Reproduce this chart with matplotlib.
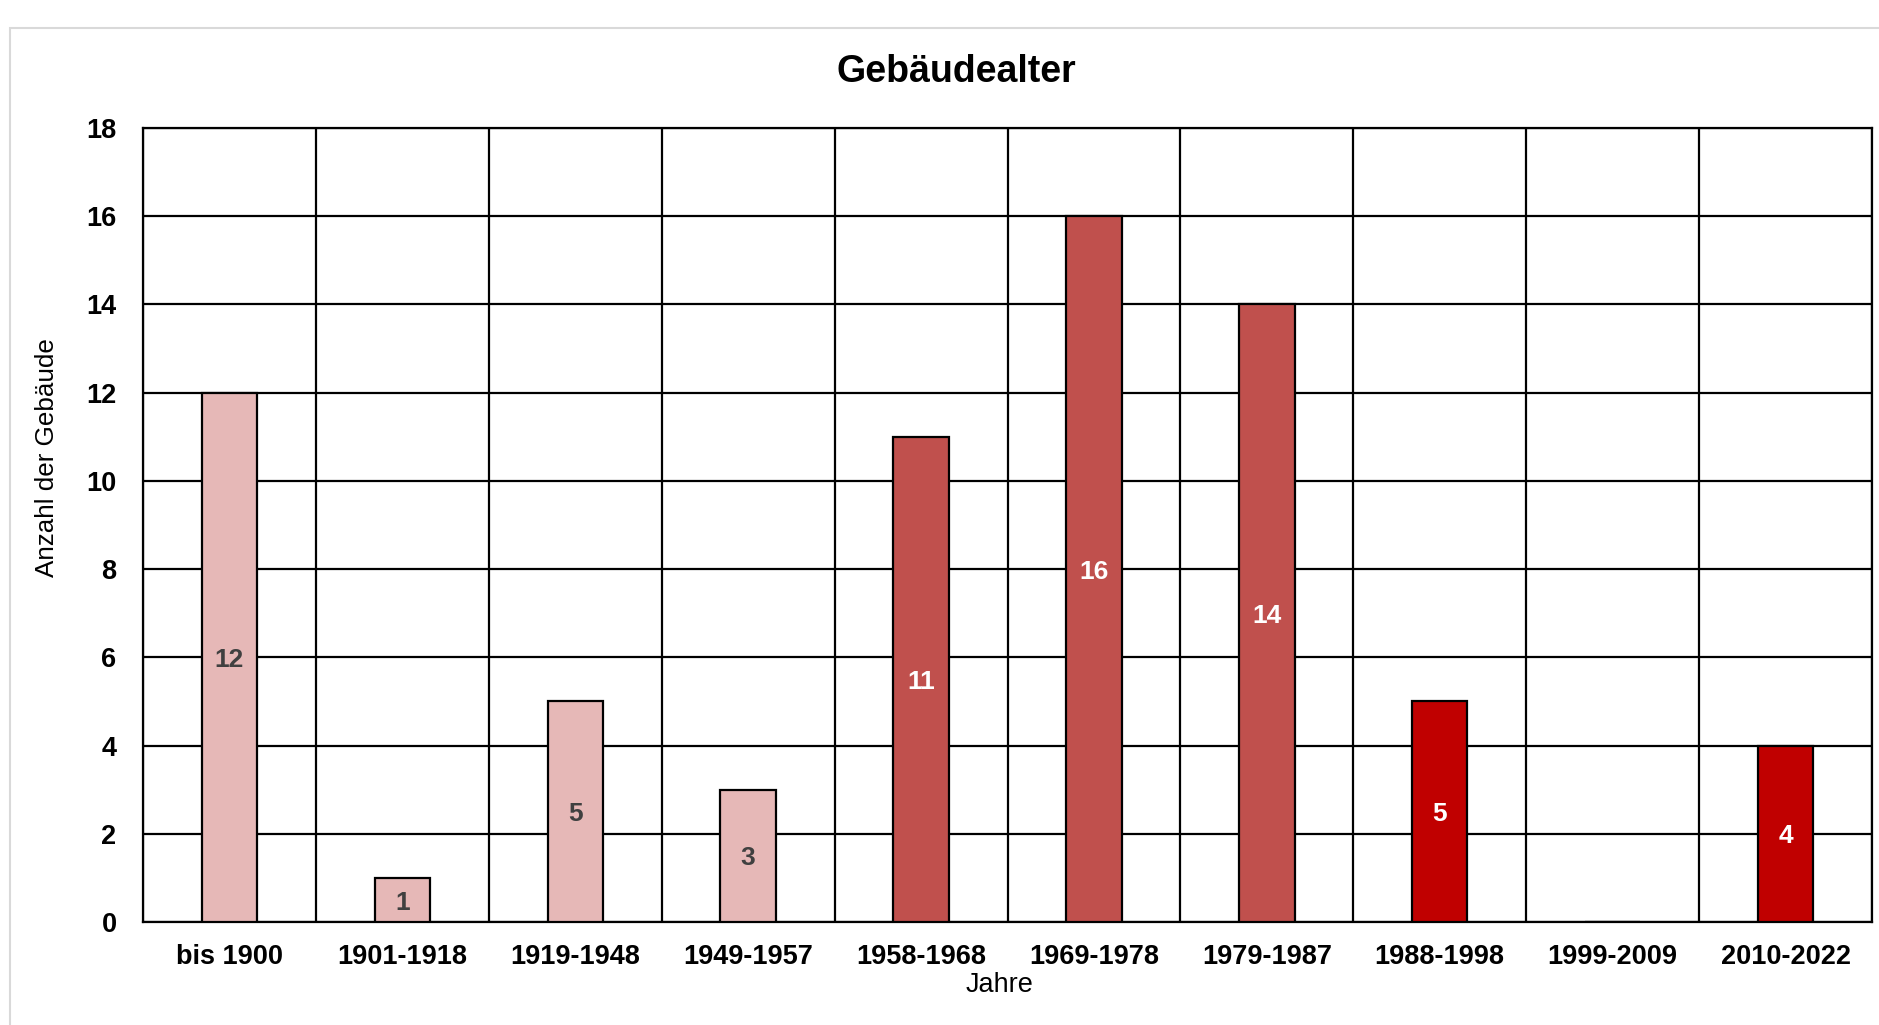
import matplotlib
matplotlib.use("Agg")
import matplotlib.pyplot as plt
import numpy as np
from matplotlib.patches import Rectangle

categories = ["bis 1900", "1901-1918", "1919-1948", "1949-1957", "1958-1968",
              "1969-1978", "1979-1987", "1988-1998", "1999-2009", "2010-2022"]
values = [12, 1, 5, 3, 11, 16, 14, 5, 0, 4]
bar_colors = ["#E6B8B7", "#E6B8B7", "#E6B8B7", "#E6B8B7", "#C0504D",
              "#C0504D", "#C0504D", "#C00000", "#C00000", "#C00000"]
label_colors = ["#404040", "#404040", "#404040", "#404040", "white",
                "white", "white", "white", "white", "white"]
yticks = [0, 2, 4, 6, 8, 10, 12, 14, 16, 18]

plt.rcParams['font.family'] = ['Liberation Sans', 'DejaVu Sans']

W, H = 1879, 1025
fig = plt.figure(figsize=(W / 100, H / 100), dpi=100)

# outer chart border
fig.patches.append(Rectangle((10 / W, -0.1), 1.2, 1 - 28 / H + 0.1,
                             transform=fig.transFigure, fill=False,
                             edgecolor="#D9D9D9", linewidth=1.5))

ax = fig.add_axes([143 / W, 1 - 922 / H, (1872 - 143) / W, (922 - 128) / H])
x = np.arange(len(categories))
bars = ax.bar(x, values, width=0.32, color=bar_colors, edgecolor="black",
              linewidth=1.6, zorder=3)

for xi, v, lc in zip(x, values, label_colors):
    if v > 0:
        ax.text(xi, v / 2 - 0.06, str(v), ha="center", va="center", color=lc,
                fontsize=19, fontweight="bold", zorder=4)

ax.set_xlim(-0.5, len(categories) - 0.5)
ax.set_ylim(0, 18)
ax.set_yticks(yticks)
ax.set_yticklabels([str(t) for t in yticks], fontsize=19.5, fontweight="bold")
ax.set_xticks(x)
ax.set_xticklabels(categories, fontsize=19.5, fontweight="bold")
ax.set_xticks(np.arange(-0.5, len(categories)), minor=True)
ax.tick_params(axis="both", which="both", length=0)
ax.tick_params(axis="y", pad=19)
ax.tick_params(axis="x", pad=16)
ax.grid(axis="y", which="major", color="black", linewidth=1.6, zorder=0)
ax.grid(axis="x", which="minor", color="black", linewidth=1.6, zorder=0)
ax.grid(axis="x", which="major", visible=False)
ax.set_axisbelow(True)
for s in ax.spines.values():
    s.set_color("black")
    s.set_linewidth(1.6)

fig.text(956 / W, 1 - 72 / H, "Gebäudealter", ha="center", va="center",
         fontsize=27, fontweight="bold")
fig.text(1000 / W, 1 - 985 / H, "Jahre", ha="center", va="center", fontsize=19.5)
fig.text(47 / W, 1 - 458 / H, "Anzahl der Gebäude", ha="center", va="center",
         rotation=90, fontsize=18.7)

fig.savefig("out.png", dpi=100)
